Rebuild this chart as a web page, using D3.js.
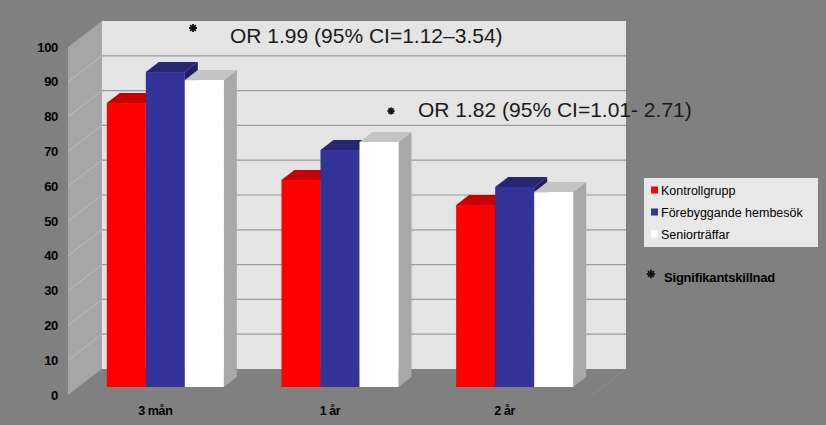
<!DOCTYPE html>
<html><head><meta charset="utf-8">
<script src="https://cdn.jsdelivr.net/npm/d3@7"></script>
<style>
html,body{margin:0;padding:0;background:#808080;}
svg{display:block;font-family:"Liberation Sans",Arial,sans-serif;}
</style></head>
<body><svg id="c" width="826" height="425"></svg>
<script>
const categories = ["3 mån", "1 år", "2 år"];
const seriesNames = ["Kontrollgrupp", "Förebyggande hembesök", "Seniorträffar"];
const kontrollgrupp = [81.6, 59.5, 52.3];
const hembesok = [90.5, 68.1, 57.5];
const seniortraffar = [88.2, 70.4, 56.0];
const yTicks = [0, 10, 20, 30, 40, 50, 60, 70, 80, 90, 100];
const annotations = ["OR 1.99 (95% CI=1.12–3.54)", "OR 1.82 (95% CI=1.01- 2.71)"];
const noteLabel = "Signifikantskillnad";

const seriesValues = [kontrollgrupp, hembesok, seniortraffar];
const colors = [
  {front:"#ff0000", top:"#c80000", side:"#990000"},
  {front:"#333399", top:"#262673", side:"#1f1f5c"},
  {front:"#ffffff", top:"#c4c4c4", side:"#a8a8a8"}
];

const svg = d3.select("#c");
const W = 826, H = 425;
svg.append("rect").attr("width", W).attr("height", H).attr("fill", "#808080");

// front plane scales
const x = d3.scaleBand().domain(categories).range([68, 592]).padding(0);
const y = d3.scaleLinear().domain([0, 100]).range([395, 47]);
const wallD = {dx: 34, dy: -26};   // depth of the whole plot
const barOff = {dx: 10, dy: -8};    // bar front position inside depth
const barD = {dx: 13, dy: -10};     // bar depth
const groupW = x.bandwidth() * 0.67;
const xi = d3.scaleBand().domain(d3.range(seriesNames.length))
  .range([(x.bandwidth() - groupW) / 2, (x.bandwidth() + groupW) / 2]).padding(0);

const x0 = x.range()[0], x1 = x.range()[1];
const pts = a => a.map(p => p.join(",")).join(" ");

// left wall
svg.append("polygon").attr("points", pts([
  [x0, y(100)], [x0 + wallD.dx, y(100) + wallD.dy],
  [x0 + wallD.dx, y(0) + wallD.dy], [x0, y(0)]
])).attr("fill", "#a6a6a6");
// back wall
svg.append("rect").attr("x", x0 + wallD.dx).attr("y", y(100) + wallD.dy)
  .attr("width", x1 - x0).attr("height", y(0) - y(100))
  .attr("fill", "#e4e4e4");
// floor
svg.append("polygon").attr("points", pts([
  [x0, y(0)], [x1, y(0)], [x1 + wallD.dx, y(0) + wallD.dy], [x0 + wallD.dx, y(0) + wallD.dy]
])).attr("fill", "#808080");
svg.append("line").attr("x1", x1).attr("y1", y(0)).attr("x2", x1 + wallD.dx).attr("y2", y(0) + wallD.dy)
  .attr("stroke", "#8e8e8e").attr("stroke-width", 1);

// gridlines
const gl = yTicks.filter(t => t > 0 && t < 100);
svg.append("g").selectAll("line").data(gl).join("line")
  .attr("x1", x0 + wallD.dx).attr("x2", x1 + wallD.dx)
  .attr("y1", d => y(d) + wallD.dy).attr("y2", d => y(d) + wallD.dy)
  .attr("stroke", "#9a9a9a").attr("stroke-width", 1.2);
svg.append("g").selectAll("line").data(gl).join("line")
  .attr("x1", x0).attr("x2", x0 + wallD.dx)
  .attr("y1", d => y(d)).attr("y2", d => y(d) + wallD.dy)
  .attr("stroke", "#bdbdbd").attr("stroke-width", 1);

// bars
const bars = [];
categories.forEach((c, ci) => {
  seriesValues.forEach((vals, si) => {
    bars.push({c, si, v: vals[ci]});
  });
});
const gb = svg.append("g");
bars.forEach(b => {
  const bx = x(b.c) + xi(b.si) + barOff.dx;
  const bw = xi.bandwidth();
  const yt = y(b.v) + barOff.dy, yb = y(0) + barOff.dy;
  const col = colors[b.si];
  gb.append("polygon").attr("points", pts([
    [bx + bw, yt], [bx + bw + barD.dx, yt + barD.dy], [bx + bw + barD.dx, yb + barD.dy], [bx + bw, yb]
  ])).attr("fill", col.side);
  gb.append("polygon").attr("points", pts([
    [bx, yt], [bx + barD.dx, yt + barD.dy], [bx + bw + barD.dx, yt + barD.dy], [bx + bw, yt]
  ])).attr("fill", col.top);
  gb.append("rect").attr("x", bx).attr("y", yt).attr("width", bw).attr("height", yb - yt)
    .attr("fill", col.front);
});

// y axis labels
svg.append("g").selectAll("text").data(yTicks).join("text")
  .attr("x", 58).attr("y", d => y(d)).attr("dy", "0.35em")
  .attr("text-anchor", "end").attr("font-size", 13).attr("font-weight", "bold")
  .attr("fill", "#000").attr("letter-spacing", -0.3).text(d => d);

// category labels
svg.append("g").selectAll("text").data(categories).join("text")
  .attr("x", d => x(d) + x.bandwidth() / 2).attr("y", 415)
  .attr("text-anchor", "middle").attr("font-size", 12.5).attr("font-weight", "bold")
  .attr("fill", "#000").attr("letter-spacing", -0.4).text(d => d);

// asterisk-like star: solid core plus short rays
function drawStar(cx, cy, r) {
  const g = svg.append("g").attr("transform", `translate(${cx},${cy})`);
  g.append("circle").attr("r", r * 0.55).attr("fill", "#111");
  [0, 45, 90, 135].forEach(a => {
    g.append("line").attr("x1", -r).attr("x2", r).attr("y1", 0).attr("y2", 0)
      .attr("transform", `rotate(${a})`).attr("stroke", "#111").attr("stroke-width", 1.8);
  });
}

// annotations
drawStar(193, 28, 4);
svg.append("text").attr("x", 230).attr("y", 43).attr("font-size", 21)
  .attr("fill", "#1a1a1a").text(annotations[0]);
drawStar(391, 111, 3.6);
svg.append("text").attr("x", 418).attr("y", 117).attr("font-size", 21)
  .attr("fill", "#1a1a1a").text(annotations[1]);

// legend
const lg = svg.append("g");
lg.append("rect").attr("x", 644).attr("y", 178).attr("width", 174).attr("height", 69).attr("fill", "#e8e8e8");
seriesNames.forEach((n, i) => {
  const cy = 190 + i * 22;
  lg.append("rect").attr("x", 651).attr("y", cy - 3.5).attr("width", 7).attr("height", 7)
    .attr("fill", colors[i].front);
  lg.append("text").attr("x", 661).attr("y", cy).attr("dy", "0.36em")
    .attr("font-size", 12.5).attr("fill", "#000").text(n);
});
drawStar(651, 274, 4.2);
svg.append("text").attr("x", 664).attr("y", 277).attr("dy", "0.36em")
  .attr("font-size", 13).attr("font-weight", "bold").attr("fill", "#000")
  .attr("letter-spacing", -0.2).text(noteLabel);
</script></body></html>
